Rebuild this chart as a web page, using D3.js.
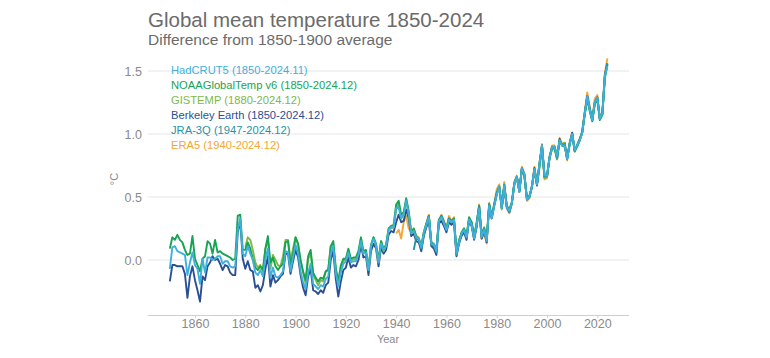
<!DOCTYPE html>
<html><head><meta charset="utf-8">
<script src="https://cdn.jsdelivr.net/npm/d3@7"></script>
<style>html,body{margin:0;padding:0;background:#fff}svg{display:block}</style>
</head><body>
<svg id="chart" width="770" height="358"></svg>
<script>
const xTicks = [1860, 1880, 1900, 1920, 1940, 1960, 1980, 2000, 2020];
const yTicks = [0.0, 0.5, 1.0, 1.5];
const seriesNames = ["HadCRUT5 (1850-2024.11)", "NOAAGlobalTemp v6 (1850-2024.12)", "GISTEMP (1880-2024.12)", "Berkeley Earth (1850-2024.12)", "JRA-3Q (1947-2024.12)", "ERA5 (1940-2024.12)"];
const seriesColors = ["#3fb0dc", "#16a453", "#80b848", "#2a4f93", "#1f93a8", "#f2a733"];

const hadcrut5Start = 1850;
const hadcrut5 = [-0.07,0.10,0.11,0.07,0.06,0.05,0.04,-0.12,-0.02,0.06,
-0.04,-0.07,-0.19,0.01,-0.10,0.02,0.02,0.00,0.01,0.03,
0.03,-0.03,-0.01,-0.01,-0.05,-0.06,-0.05,0.24,0.33,0.05,
0.03,0.11,0.05,0.00,-0.10,-0.12,-0.08,-0.13,0.01,0.09,
-0.14,-0.06,-0.13,-0.14,-0.12,-0.09,0.07,0.06,-0.09,0.02,
0.12,0.05,-0.09,-0.18,-0.23,-0.10,-0.03,-0.19,-0.21,-0.23,
-0.20,-0.21,-0.15,-0.13,0.05,0.11,-0.10,-0.21,-0.10,-0.03,
-0.01,0.06,-0.02,-0.01,-0.01,0.04,0.15,0.05,0.06,-0.08,
0.11,0.17,0.12,-0.02,0.13,0.08,0.11,0.24,0.26,0.26,
0.41,0.42,0.33,0.36,0.47,0.37,0.22,0.23,0.18,0.17,
0.10,0.22,0.28,0.34,0.13,0.12,0.07,0.31,0.34,0.29,
0.24,0.32,0.30,0.32,0.05,0.14,0.21,0.24,0.18,0.32,
0.28,0.17,0.28,0.41,0.18,0.24,0.15,0.43,0.33,0.43,
0.52,0.58,0.41,0.59,0.42,0.39,0.45,0.60,0.66,0.54,
0.73,0.68,0.48,0.50,0.58,0.72,0.60,0.76,0.91,0.67,
0.67,0.81,0.89,0.90,0.82,0.95,0.91,0.91,0.80,0.92,
1.00,0.87,0.91,0.95,1.01,1.16,1.30,1.19,1.11,1.25,
1.29,1.12,1.16,1.46,1.54];

const noaaStart = 1850;
const noaa = [0.09,0.18,0.16,0.20,0.16,0.14,0.08,0.04,0.05,0.19,
0.01,-0.04,-0.09,0.01,0.03,0.15,0.13,0.05,0.16,0.06,
0.07,0.05,0.04,0.03,0.02,0.00,0.01,0.35,0.36,0.08,
0.08,0.14,0.09,0.01,-0.06,-0.08,-0.05,-0.08,0.09,0.19,
-0.02,0.02,-0.05,-0.08,-0.05,-0.03,0.14,0.15,-0.04,0.05,
0.18,0.13,0.00,-0.09,-0.16,0.03,0.08,-0.10,-0.14,-0.17,
-0.14,-0.15,-0.09,-0.08,0.11,0.15,-0.06,-0.17,-0.05,0.01,
0.01,0.09,0.01,0.02,0.02,0.07,0.18,0.07,0.08,-0.07,
0.12,0.18,0.13,0.00,0.15,0.09,0.12,0.25,0.27,0.28,
0.44,0.47,0.36,0.38,0.49,0.39,0.22,0.25,0.19,0.17,
0.11,0.22,0.29,0.35,0.14,0.12,0.08,0.32,0.35,0.30,
0.25,0.33,0.31,0.33,0.07,0.15,0.22,0.25,0.19,0.34,
0.30,0.19,0.30,0.43,0.20,0.25,0.16,0.44,0.34,0.44,
0.53,0.58,0.42,0.59,0.43,0.40,0.46,0.61,0.66,0.55,
0.72,0.67,0.49,0.51,0.58,0.71,0.60,0.77,0.90,0.67,
0.67,0.81,0.88,0.89,0.82,0.95,0.91,0.90,0.81,0.93,
1.00,0.86,0.90,0.95,1.01,1.15,1.28,1.18,1.10,1.24,
1.27,1.11,1.15,1.45,1.55];

const gistempStart = 1880;
const gistemp = [0.10,0.18,0.16,0.08,-0.02,-0.06,-0.04,-0.09,0.09,0.16,
-0.07,0.04,0.00,-0.04,-0.05,0.03,0.16,0.16,0.00,0.09,
0.18,0.12,-0.01,-0.10,-0.19,0.01,0.05,-0.12,-0.16,-0.20,
-0.16,-0.17,-0.09,-0.07,0.11,0.13,-0.08,-0.18,-0.04,0.00,
0.00,0.08,-0.01,0.01,0.00,0.05,0.17,0.05,0.07,-0.08,
0.11,0.18,0.11,-0.02,0.15,0.07,0.12,0.24,0.25,0.26,
0.40,0.45,0.33,0.36,0.47,0.36,0.21,0.24,0.17,0.16,
0.10,0.21,0.28,0.35,0.14,0.13,0.08,0.32,0.34,0.30,
0.24,0.33,0.30,0.32,0.06,0.16,0.21,0.25,0.19,0.33,
0.30,0.19,0.28,0.43,0.20,0.26,0.17,0.45,0.34,0.43,
0.53,0.59,0.41,0.58,0.43,0.39,0.45,0.60,0.66,0.54,
0.72,0.67,0.49,0.50,0.58,0.72,0.60,0.73,0.88,0.65,
0.66,0.81,0.90,0.89,0.80,0.95,0.91,0.93,0.81,0.92,
0.99,0.88,0.91,0.95,1.02,1.17,1.28,1.19,1.12,1.25,
1.28,1.12,1.16,1.44,1.55];

const berkeleyStart = 1850;
const berkeley = [-0.17,-0.04,-0.04,-0.05,-0.05,-0.05,-0.11,-0.30,-0.13,-0.05,
-0.16,-0.24,-0.33,-0.13,-0.16,-0.05,-0.02,0.03,0.00,0.01,
-0.03,-0.08,-0.04,-0.05,-0.10,-0.12,-0.12,0.22,0.31,0.01,
-0.07,-0.01,-0.08,-0.09,-0.22,-0.20,-0.25,-0.20,-0.07,0.03,
-0.21,-0.12,-0.18,-0.16,-0.13,-0.11,0.05,0.05,-0.11,-0.01,
0.08,0.02,-0.12,-0.22,-0.28,-0.13,-0.07,-0.24,-0.25,-0.27,
-0.24,-0.26,-0.20,-0.18,0.00,0.07,-0.15,-0.29,-0.17,-0.08,
-0.06,0.02,-0.06,-0.04,-0.05,0.00,0.12,0.02,0.03,-0.12,
0.07,0.13,0.09,-0.05,0.10,0.05,0.08,0.20,0.23,0.22,
0.30,0.36,0.30,0.31,0.40,0.33,0.19,0.21,0.15,0.14,
0.07,0.19,0.26,0.31,0.11,0.09,0.04,0.29,0.31,0.27,
0.22,0.30,0.28,0.30,0.03,0.13,0.19,0.22,0.16,0.31,
0.27,0.16,0.26,0.41,0.17,0.23,0.14,0.43,0.33,0.43,
0.52,0.58,0.42,0.58,0.42,0.38,0.45,0.60,0.66,0.54,
0.73,0.67,0.48,0.50,0.58,0.73,0.59,0.75,0.91,0.66,
0.66,0.81,0.90,0.89,0.80,0.96,0.91,0.93,0.80,0.92,
1.01,0.87,0.91,0.96,1.02,1.17,1.30,1.20,1.11,1.25,
1.29,1.12,1.16,1.47,1.56];

const jra3qStart = 1947;
const jra3q = [0.08,0.18,0.16,
0.09,0.20,0.27,0.35,0.12,0.12,0.06,0.31,0.35,0.30,
0.24,0.33,0.30,0.32,0.04,0.14,0.21,0.24,0.18,0.32,
0.29,0.18,0.28,0.43,0.19,0.25,0.16,0.44,0.34,0.44,
0.53,0.58,0.41,0.60,0.42,0.38,0.45,0.61,0.66,0.55,
0.73,0.68,0.49,0.50,0.59,0.72,0.60,0.75,0.91,0.66,
0.67,0.82,0.89,0.90,0.81,0.95,0.91,0.92,0.80,0.92,
1.00,0.87,0.91,0.95,1.01,1.16,1.30,1.19,1.11,1.25,
1.29,1.12,1.16,1.46,1.56];

const era5Start = 1940;
const era5 = [0.21,0.24,0.17,0.30,0.35,0.25,0.22,0.25,0.19,0.18,
0.10,0.22,0.29,0.36,0.13,0.10,0.07,0.30,0.36,0.31,
0.26,0.35,0.31,0.34,0.05,0.14,0.20,0.25,0.18,0.33,
0.30,0.17,0.27,0.44,0.17,0.21,0.13,0.45,0.33,0.45,
0.56,0.60,0.40,0.62,0.41,0.37,0.45,0.62,0.67,0.54,
0.74,0.69,0.47,0.49,0.59,0.74,0.60,0.77,0.92,0.64,
0.65,0.82,0.91,0.91,0.81,0.97,0.92,0.93,0.79,0.93,
1.01,0.86,0.92,0.96,1.01,1.18,1.33,1.22,1.12,1.28,
1.31,1.13,1.17,1.48,1.60];

const series = [
  {name: seriesNames[0], color: seriesColors[0], start: hadcrut5Start, values: hadcrut5},
  {name: seriesNames[1], color: seriesColors[1], start: noaaStart, values: noaa},
  {name: seriesNames[2], color: seriesColors[2], start: gistempStart, values: gistemp},
  {name: seriesNames[3], color: seriesColors[3], start: berkeleyStart, values: berkeley},
  {name: seriesNames[4], color: seriesColors[4], start: jra3qStart, values: jra3q},
  {name: seriesNames[5], color: seriesColors[5], start: era5Start, values: era5}
];
const drawOrder = [5, 3, 2, 1, 4, 0];

const svg = d3.select("#chart");
const FONT = "'Liberation Sans', Arial, sans-serif";

const x = d3.scaleLinear().domain([1841.2, 2032.6]).range([147.7, 629]);
const y = d3.scaleLinear().domain([-0.4365, 1.5]).range([315, 71]);

// gridlines
svg.append("g").selectAll("line").data(yTicks).join("line")
  .attr("x1", x.range()[0]).attr("x2", x.range()[1])
  .attr("y1", d => y(d)).attr("y2", d => y(d))
  .attr("stroke", "#e6e6e6").attr("stroke-width", 1);

// y tick labels
svg.append("g").selectAll("text").data(yTicks).join("text")
  .attr("x", 142).attr("y", d => y(d) + 4.5)
  .attr("text-anchor", "end")
  .attr("font-family", FONT).attr("font-size", 12.5).attr("fill", "#8a8a8a")
  .text(d => d3.format(".1f")(d));

// x axis
const xAxis = d3.axisBottom(x).tickValues(xTicks).tickFormat(d3.format("d")).tickSize(3).tickPadding(1);
const gx = svg.append("g").attr("transform", `translate(0,${y.range()[0]})`).call(xAxis);
gx.select(".domain").attr("stroke", "#cfcfcf").attr("d", `M${x.range()[0]},0.5H${x.range()[1]}`);
gx.selectAll(".tick line").attr("stroke", "#cfcfcf");
gx.selectAll(".tick text").attr("font-family", FONT).attr("font-size", 12.5).attr("fill", "#8a8a8a");

// axis titles
svg.append("text").attr("x", 388).attr("y", 342.5).attr("text-anchor", "middle")
  .attr("font-family", FONT).attr("font-size", 11).attr("fill", "#8a8a8a").text("Year");
svg.append("text").attr("transform", "translate(118,179) rotate(-90)").attr("text-anchor", "middle")
  .attr("font-family", FONT).attr("font-size", 11).attr("fill", "#8a8a8a").text("°C");

// lines
const line = d3.line().x(d => x(d[0])).y(d => y(d[1]));
const gl = svg.append("g");
drawOrder.forEach(i => {
  const s = series[i];
  const pts = s.values.map((v, k) => [s.start + k, v]);
  gl.append("path").datum(pts).attr("d", line)
    .attr("fill", "none").attr("stroke", s.color).attr("stroke-width", 1.9)
    .attr("stroke-linejoin", "round");
});

// legend
svg.append("g").selectAll("text").data(series).join("text")
  .attr("x", 171).attr("y", (d, i) => 74 + i * 15)
  .attr("font-family", FONT).attr("font-size", 11.2)
  .attr("fill", d => d.color)
  .text(d => d.name);

// titles
svg.append("text").attr("x", 148).attr("y", 26.5)
  .attr("font-family", FONT).attr("font-size", 20.5).attr("fill", "#6b6b6b")
  .text("Global mean temperature 1850-2024");
svg.append("text").attr("x", 148).attr("y", 45)
  .attr("font-family", FONT).attr("font-size", 15.5).attr("fill", "#6b6b6b")
  .text("Difference from 1850-1900 average");
</script>
</body></html>
